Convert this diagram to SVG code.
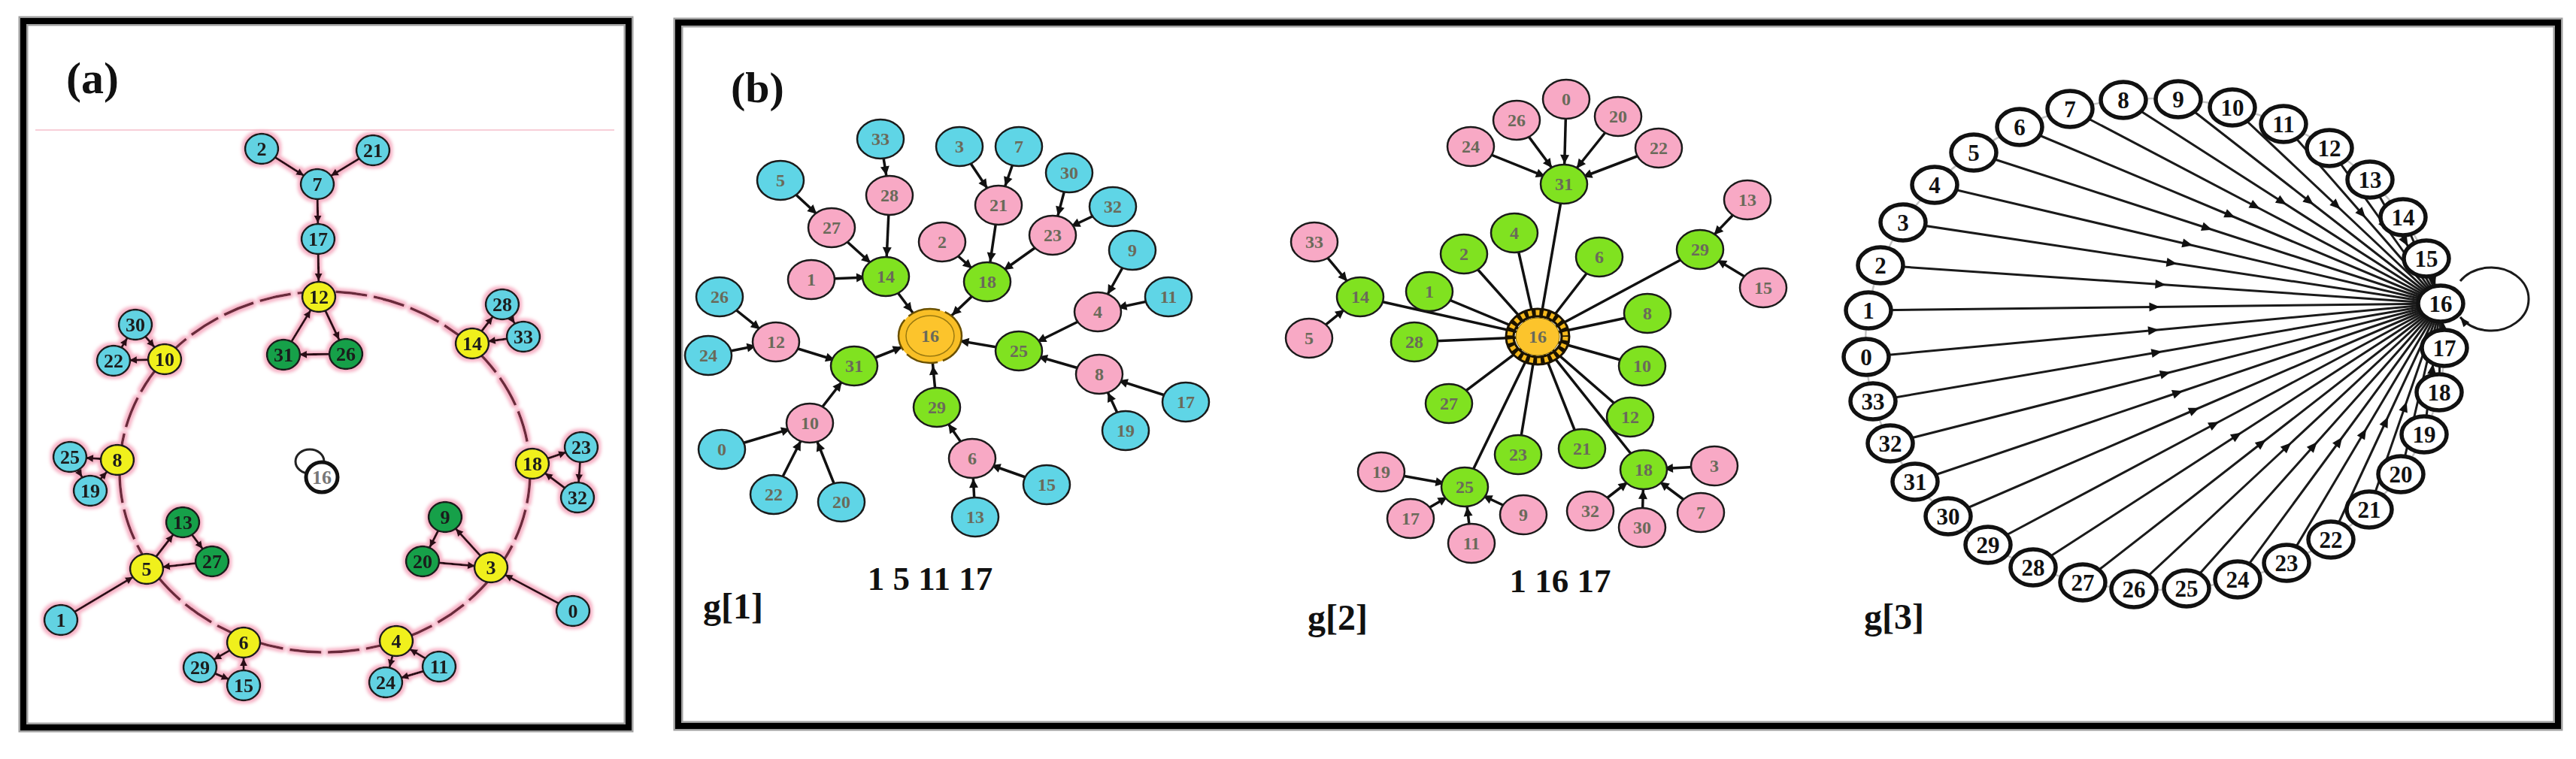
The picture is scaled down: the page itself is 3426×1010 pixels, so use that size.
<svg xmlns="http://www.w3.org/2000/svg" width="3426" height="1010" viewBox="0 0 3426 1010">
<defs>
<style>
.fbg{fill:none;stroke:#a0a0a0;stroke-width:13}
.fr{fill:none;stroke:#000;stroke-width:8}
.lbl{font-family:"Liberation Serif","Times New Roman",serif;font-weight:bold;fill:#111}
.ta{font-family:"Liberation Serif",serif;font-weight:bold;font-size:26px;fill:#1a1a1a;text-anchor:middle}
.tb{font-family:"Liberation Serif",serif;font-weight:bold;font-size:24px;fill:#6a6a5a;text-anchor:middle}
.tc{font-family:"Liberation Serif",serif;font-weight:bold;font-size:31px;fill:#111;text-anchor:middle}
.ea{stroke:#2a0d14;stroke-width:3;fill:none;marker-end:url(#arrA)}
.eb{stroke:#111;stroke-width:3.5;fill:none}
.ebm{stroke:#111;stroke-width:3.5;fill:none;marker-end:url(#arrG)}
.ebh{stroke:#111;stroke-width:3.5;fill:none;marker-end:url(#arrH)}
.ec{stroke:#1a1a1a;stroke-width:3;fill:none;marker-mid:url(#arrM)}
.acy{fill:#62d2e2;stroke:#1a1a1a;stroke-width:2.5}
.aye{fill:#f0f01e;stroke:#1a1a1a;stroke-width:2.5}
.agr{fill:#15a048;stroke:#1a1a1a;stroke-width:2.5}
.bcy{fill:#5fd5e6;stroke:#1a1a1a;stroke-width:2.5}
.bpk{fill:#f8a9c5;stroke:#1a1a1a;stroke-width:2.5}
.bgr{fill:#80e220;stroke:#1a1a1a;stroke-width:2.5}
.cw{fill:#fff;stroke:#111;stroke-width:5.5}
</style>
<marker id="arrA" viewBox="-40 -8 42 16" markerWidth="42" markerHeight="16" refX="0" refY="0" orient="auto" markerUnits="userSpaceOnUse"><path d="M-21,0 L-31,-5 L-31,5 Z" fill="#2a0d14"/></marker>
<marker id="arrG" viewBox="-45 -8 47 16" markerWidth="47" markerHeight="16" refX="0" refY="0" orient="auto" markerUnits="userSpaceOnUse"><path d="M-27,0 L-39,-6 L-39,6 Z" fill="#111"/></marker>
<marker id="arrH" viewBox="-58 -8 60 16" markerWidth="60" markerHeight="16" refX="0" refY="0" orient="auto" markerUnits="userSpaceOnUse"><path d="M-40,0 L-52,-6 L-52,6 Z" fill="#111"/></marker>
<marker id="arrM" viewBox="-12 -8 22 16" markerWidth="22" markerHeight="16" refX="0" refY="0" orient="auto" markerUnits="userSpaceOnUse"><path d="M7,0 L-7,-6 L-7,6 Z" fill="#111"/></marker>
<marker id="arrT" viewBox="-16 -8 18 16" markerWidth="18" markerHeight="16" refX="0" refY="0" orient="auto" markerUnits="userSpaceOnUse"><path d="M0,0 L-13,-5 L-13,5 Z" fill="#111"/></marker>
<filter id="glow" filterUnits="userSpaceOnUse" x="40" y="170" width="790" height="790">
<feMorphology in="SourceAlpha" operator="dilate" radius="3" result="d"/>
<feGaussianBlur in="d" stdDeviation="2" result="b"/>
<feFlood flood-color="#f6b0c4"/>
<feComposite in2="b" operator="in" result="halo"/>
<feMerge><feMergeNode in="halo"/><feMergeNode in="SourceGraphic"/></feMerge>
</filter>
</defs>
<rect width="3426" height="1010" fill="#fff"/>

<g id="frames">
<rect class="fbg" x="31" y="28" width="805" height="940"/>
<rect class="fr" x="31" y="28" width="805" height="940"/>
<rect class="fbg" x="902" y="30" width="2500" height="936"/>
<rect class="fr" x="902" y="30" width="2500" height="936"/>
</g>

<g id="labels">
<text class="lbl" x="88" y="124" font-size="60">(a)</text>
<text class="lbl" x="972" y="136" font-size="58">(b)</text>
<text class="lbl" x="1237" y="785" font-size="45" text-anchor="middle">1 5 11 17</text>
<text class="lbl" x="2075" y="788" font-size="45" text-anchor="middle">1 16 17</text>
<text class="lbl" x="935" y="823" font-size="48">g[1]</text>
<text class="lbl" x="1739" y="838" font-size="48">g[2]</text>
<text class="lbl" x="2479" y="837" font-size="48">g[3]</text>
</g>

<line x1="47" y1="173" x2="817" y2="173" stroke="#f8cfd8" stroke-width="2"/>

<!-- ============ Panel (a) ============ -->
<g id="panel-a" filter="url(#glow)">
<ellipse cx="432" cy="628" rx="273" ry="240" fill="none" stroke="#6b2b3b" stroke-width="3.5" stroke-dasharray="42 9"/>
<g id="connectors-a">
<path class="ea" d="M348,198 L422,245"/>
<path class="ea" d="M496,200 L422,245"/>
<path class="ea" d="M422,245 L423,318"/>
<path class="ea" d="M423,318 L424,395"/>
<path class="ea" d="M377,472 L424,395"/>
<path class="ea" d="M424,395 L460,471"/>
<path class="ea" d="M460,471 L377,472"/>
<path class="ea" d="M180,432 L219,478"/>
<path class="ea" d="M219,478 L151,480"/>
<path class="ea" d="M151,480 L180,432"/>
<path class="ea" d="M628,457 L668,405"/>
<path class="ea" d="M696,448 L628,457"/>
<path class="ea" d="M668,405 L696,448"/>
<path class="ea" d="M156,612 L93,608"/>
<path class="ea" d="M120,653 L156,612"/>
<path class="ea" d="M93,608 L120,653"/>
<path class="ea" d="M708,617 L773,595"/>
<path class="ea" d="M768,662 L708,617"/>
<path class="ea" d="M773,595 L768,662"/>
<path class="ea" d="M195,757 L243,695"/>
<path class="ea" d="M282,747 L195,757"/>
<path class="ea" d="M243,695 L282,747"/>
<path class="ea" d="M653,755 L592,688"/>
<path class="ea" d="M562,747 L653,755"/>
<path class="ea" d="M592,688 L562,747"/>
<path class="ea" d="M81,825 L195,757"/>
<path class="ea" d="M762,813 L653,755"/>
<path class="ea" d="M324,912 L324,855"/>
<path class="ea" d="M324,855 L266,888"/>
<path class="ea" d="M266,888 L324,912"/>
<path class="ea" d="M584,887 L527,853"/>
<path class="ea" d="M527,853 L513,908"/>
<path class="ea" d="M584,887 L513,908"/>
</g>
<g id="a2"><ellipse class="acy" cx="348" cy="198" rx="22" ry="20"/><text class="ta" x="348" y="207">2</text></g>
<g id="a21"><ellipse class="acy" cx="496" cy="200" rx="22" ry="20"/><text class="ta" x="496" y="209">21</text></g>
<g id="a7"><ellipse class="acy" cx="422" cy="245" rx="22" ry="20"/><text class="ta" x="422" y="254">7</text></g>
<g id="a17"><ellipse class="acy" cx="423" cy="318" rx="22" ry="20"/><text class="ta" x="423" y="327">17</text></g>
<g id="a12"><ellipse class="aye" cx="424" cy="395" rx="22" ry="20"/><text class="ta" x="424" y="404">12</text></g>
<g id="a31"><ellipse class="agr" cx="377" cy="472" rx="22" ry="20"/><text class="ta" x="377" y="481">31</text></g>
<g id="a26"><ellipse class="agr" cx="460" cy="471" rx="22" ry="20"/><text class="ta" x="460" y="480">26</text></g>
<g id="a30"><ellipse class="acy" cx="180" cy="432" rx="22" ry="20"/><text class="ta" x="180" y="441">30</text></g>
<g id="a22"><ellipse class="acy" cx="151" cy="480" rx="22" ry="20"/><text class="ta" x="151" y="489">22</text></g>
<g id="a10"><ellipse class="aye" cx="219" cy="478" rx="22" ry="20"/><text class="ta" x="219" y="487">10</text></g>
<g id="a28"><ellipse class="acy" cx="668" cy="405" rx="22" ry="20"/><text class="ta" x="668" y="414">28</text></g>
<g id="a33"><ellipse class="acy" cx="696" cy="448" rx="22" ry="20"/><text class="ta" x="696" y="457">33</text></g>
<g id="a14"><ellipse class="aye" cx="628" cy="457" rx="22" ry="20"/><text class="ta" x="628" y="466">14</text></g>
<g id="a25"><ellipse class="acy" cx="93" cy="608" rx="22" ry="20"/><text class="ta" x="93" y="617">25</text></g>
<g id="a8"><ellipse class="aye" cx="156" cy="612" rx="22" ry="20"/><text class="ta" x="156" y="621">8</text></g>
<g id="a19"><ellipse class="acy" cx="120" cy="653" rx="22" ry="20"/><text class="ta" x="120" y="662">19</text></g>
<g id="a23"><ellipse class="acy" cx="773" cy="595" rx="22" ry="20"/><text class="ta" x="773" y="604">23</text></g>
<g id="a18"><ellipse class="aye" cx="708" cy="617" rx="22" ry="20"/><text class="ta" x="708" y="626">18</text></g>
<g id="a32"><ellipse class="acy" cx="768" cy="662" rx="22" ry="20"/><text class="ta" x="768" y="671">32</text></g>
<g id="a13"><ellipse class="agr" cx="243" cy="695" rx="22" ry="20"/><text class="ta" x="243" y="704">13</text></g>
<g id="a27"><ellipse class="agr" cx="282" cy="747" rx="22" ry="20"/><text class="ta" x="282" y="756">27</text></g>
<g id="a5"><ellipse class="aye" cx="195" cy="757" rx="22" ry="20"/><text class="ta" x="195" y="766">5</text></g>
<g id="a9"><ellipse class="agr" cx="592" cy="688" rx="22" ry="20"/><text class="ta" x="592" y="697">9</text></g>
<g id="a20"><ellipse class="agr" cx="562" cy="747" rx="22" ry="20"/><text class="ta" x="562" y="756">20</text></g>
<g id="a3"><ellipse class="aye" cx="653" cy="755" rx="22" ry="20"/><text class="ta" x="653" y="764">3</text></g>
<g id="a1"><ellipse class="acy" cx="81" cy="825" rx="22" ry="20"/><text class="ta" x="81" y="834">1</text></g>
<g id="a0"><ellipse class="acy" cx="762" cy="813" rx="22" ry="20"/><text class="ta" x="762" y="822">0</text></g>
<g id="a6"><ellipse class="aye" cx="324" cy="855" rx="22" ry="20"/><text class="ta" x="324" y="864">6</text></g>
<g id="a4"><ellipse class="aye" cx="527" cy="853" rx="22" ry="20"/><text class="ta" x="527" y="862">4</text></g>
<g id="a29"><ellipse class="acy" cx="266" cy="888" rx="22" ry="20"/><text class="ta" x="266" y="897">29</text></g>
<g id="a15"><ellipse class="acy" cx="324" cy="912" rx="22" ry="20"/><text class="ta" x="324" y="921">15</text></g>
<g id="a11"><ellipse class="acy" cx="584" cy="887" rx="22" ry="20"/><text class="ta" x="584" y="896">11</text></g>
<g id="a24"><ellipse class="acy" cx="513" cy="908" rx="22" ry="20"/><text class="ta" x="513" y="917">24</text></g>
</g>
<g id="a16">
<ellipse cx="412" cy="614" rx="19" ry="16" fill="#fff" stroke="#222" stroke-width="3"/>
<ellipse cx="428" cy="635" rx="21" ry="20" fill="#fff" stroke="#111" stroke-width="5"/>
<text class="ta" x="428" y="644" style="fill:#777">16</text>
</g>

<!-- ============ g[1] ============ -->
<g id="connectors-g1">
<path class="ebm" d="M1038,240 L1106,303"/>
<path class="ebm" d="M1106,303 L1178,368"/>
<path class="ebm" d="M1171,185 L1183,260"/>
<path class="ebm" d="M1183,260 L1178,368"/>
<path class="ebm" d="M1079,372 L1178,368"/>
<path class="ebh" d="M1178,368 L1237,447"/>
<path class="ebm" d="M1276,195 L1328,273"/>
<path class="ebm" d="M1355,195 L1328,273"/>
<path class="ebm" d="M1328,273 L1313,375"/>
<path class="ebm" d="M1253,322 L1313,375"/>
<path class="ebm" d="M1422,230 L1400,313"/>
<path class="ebm" d="M1480,275 L1400,313"/>
<path class="ebm" d="M1400,313 L1313,375"/>
<path class="ebh" d="M1313,375 L1237,447"/>
<path class="ebm" d="M1506,333 L1460,415"/>
<path class="ebm" d="M1554,395 L1460,415"/>
<path class="ebm" d="M1460,415 L1355,467"/>
<path class="ebh" d="M1355,467 L1237,447"/>
<path class="ebm" d="M1462,498 L1355,467"/>
<path class="ebm" d="M1577,535 L1462,498"/>
<path class="ebm" d="M1497,573 L1462,498"/>
<path class="ebm" d="M957,395 L1032,455"/>
<path class="ebm" d="M942,473 L1032,455"/>
<path class="ebm" d="M1032,455 L1136,487"/>
<path class="ebh" d="M1136,487 L1237,447"/>
<path class="ebh" d="M1246,542 L1237,447"/>
<path class="ebm" d="M1293,610 L1246,542"/>
<path class="ebm" d="M1392,645 L1293,610"/>
<path class="ebm" d="M1297,688 L1293,610"/>
<path class="ebm" d="M1077,563 L1136,487"/>
<path class="ebm" d="M960,598 L1077,563"/>
<path class="ebm" d="M1029,658 L1077,563"/>
<path class="ebm" d="M1119,668 L1077,563"/>
</g>
<g id="g1-nodes">
<g id="g1-33"><ellipse class="bcy" cx="1171" cy="185" rx="31" ry="26"/><text class="tb" x="1171" y="193">33</text></g>
<g id="g1-3"><ellipse class="bcy" cx="1276" cy="195" rx="31" ry="26"/><text class="tb" x="1276" y="203">3</text></g>
<g id="g1-7"><ellipse class="bcy" cx="1355" cy="195" rx="31" ry="26"/><text class="tb" x="1355" y="203">7</text></g>
<g id="g1-5"><ellipse class="bcy" cx="1038" cy="240" rx="31" ry="26"/><text class="tb" x="1038" y="248">5</text></g>
<g id="g1-28"><ellipse class="bpk" cx="1183" cy="260" rx="31" ry="26"/><text class="tb" x="1183" y="268">28</text></g>
<g id="g1-30"><ellipse class="bcy" cx="1422" cy="230" rx="31" ry="26"/><text class="tb" x="1422" y="238">30</text></g>
<g id="g1-21"><ellipse class="bpk" cx="1328" cy="273" rx="31" ry="26"/><text class="tb" x="1328" y="281">21</text></g>
<g id="g1-32"><ellipse class="bcy" cx="1480" cy="275" rx="31" ry="26"/><text class="tb" x="1480" y="283">32</text></g>
<g id="g1-27"><ellipse class="bpk" cx="1106" cy="303" rx="31" ry="26"/><text class="tb" x="1106" y="311">27</text></g>
<g id="g1-2"><ellipse class="bpk" cx="1253" cy="322" rx="31" ry="26"/><text class="tb" x="1253" y="330">2</text></g>
<g id="g1-23"><ellipse class="bpk" cx="1400" cy="313" rx="31" ry="26"/><text class="tb" x="1400" y="321">23</text></g>
<g id="g1-9"><ellipse class="bcy" cx="1506" cy="333" rx="31" ry="26"/><text class="tb" x="1506" y="341">9</text></g>
<g id="g1-1"><ellipse class="bpk" cx="1079" cy="372" rx="31" ry="26"/><text class="tb" x="1079" y="380">1</text></g>
<g id="g1-14"><ellipse class="bgr" cx="1178" cy="368" rx="31" ry="26"/><text class="tb" x="1178" y="376">14</text></g>
<g id="g1-18"><ellipse class="bgr" cx="1313" cy="375" rx="31" ry="26"/><text class="tb" x="1313" y="383">18</text></g>
<g id="g1-11"><ellipse class="bcy" cx="1554" cy="395" rx="31" ry="26"/><text class="tb" x="1554" y="403">11</text></g>
<g id="g1-26"><ellipse class="bcy" cx="957" cy="395" rx="31" ry="26"/><text class="tb" x="957" y="403">26</text></g>
<g id="g1-4"><ellipse class="bpk" cx="1460" cy="415" rx="31" ry="26"/><text class="tb" x="1460" y="423">4</text></g>
<g id="g1-12"><ellipse class="bpk" cx="1032" cy="455" rx="31" ry="26"/><text class="tb" x="1032" y="463">12</text></g>
<g id="g1-25"><ellipse class="bgr" cx="1355" cy="467" rx="31" ry="26"/><text class="tb" x="1355" y="475">25</text></g>
<g id="g1-24"><ellipse class="bcy" cx="942" cy="473" rx="31" ry="26"/><text class="tb" x="942" y="481">24</text></g>
<g id="g1-31"><ellipse class="bgr" cx="1136" cy="487" rx="31" ry="26"/><text class="tb" x="1136" y="495">31</text></g>
<g id="g1-8"><ellipse class="bpk" cx="1462" cy="498" rx="31" ry="26"/><text class="tb" x="1462" y="506">8</text></g>
<g id="g1-29"><ellipse class="bgr" cx="1246" cy="542" rx="31" ry="26"/><text class="tb" x="1246" y="550">29</text></g>
<g id="g1-17"><ellipse class="bcy" cx="1577" cy="535" rx="31" ry="26"/><text class="tb" x="1577" y="543">17</text></g>
<g id="g1-10"><ellipse class="bpk" cx="1077" cy="563" rx="31" ry="26"/><text class="tb" x="1077" y="571">10</text></g>
<g id="g1-19"><ellipse class="bcy" cx="1497" cy="573" rx="31" ry="26"/><text class="tb" x="1497" y="581">19</text></g>
<g id="g1-0"><ellipse class="bcy" cx="960" cy="598" rx="31" ry="26"/><text class="tb" x="960" y="606">0</text></g>
<g id="g1-6"><ellipse class="bpk" cx="1293" cy="610" rx="31" ry="26"/><text class="tb" x="1293" y="618">6</text></g>
<g id="g1-15"><ellipse class="bcy" cx="1392" cy="645" rx="31" ry="26"/><text class="tb" x="1392" y="653">15</text></g>
<g id="g1-22"><ellipse class="bcy" cx="1029" cy="658" rx="31" ry="26"/><text class="tb" x="1029" y="666">22</text></g>
<g id="g1-20"><ellipse class="bcy" cx="1119" cy="668" rx="31" ry="26"/><text class="tb" x="1119" y="676">20</text></g>
<g id="g1-13"><ellipse class="bcy" cx="1297" cy="688" rx="31" ry="26"/><text class="tb" x="1297" y="696">13</text></g>
<g id="g1-16">
<ellipse cx="1237" cy="447" rx="42" ry="36" fill="#f9bf26" stroke="#6a5000" stroke-width="2.5" stroke-dasharray="44 7"/>
<ellipse cx="1237" cy="447" rx="32" ry="27" fill="#fcc42c" stroke="#9a7a10" stroke-width="1.5"/>
<text class="tb" x="1237" y="455">16</text>
</g>
</g>

<!-- ============ g[2] ============ -->
<g id="connectors-g2">
<path class="ebm" d="M1956,195 L2080,245"/>
<path class="ebm" d="M2017,160 L2080,245"/>
<path class="ebm" d="M2083,132 L2080,245"/>
<path class="ebm" d="M2152,155 L2080,245"/>
<path class="ebm" d="M2206,197 L2080,245"/>
<path class="eb" d="M2080,245 L2045,448"/>
<path class="ebm" d="M2324,266 L2261,332"/>
<path class="ebm" d="M2345,383 L2261,332"/>
<path class="eb" d="M2261,332 L2045,448"/>
<path class="ebm" d="M1748,322 L1809,395"/>
<path class="ebm" d="M1741,450 L1809,395"/>
<path class="eb" d="M1809,395 L2045,448"/>
<path class="eb" d="M1901,388 L2045,448"/>
<path class="eb" d="M1947,338 L2045,448"/>
<path class="eb" d="M2014,310 L2045,448"/>
<path class="eb" d="M2127,342 L2045,448"/>
<path class="eb" d="M2191,417 L2045,448"/>
<path class="eb" d="M1881,455 L2045,448"/>
<path class="eb" d="M2184,487 L2045,448"/>
<path class="eb" d="M1927,537 L2045,448"/>
<path class="eb" d="M2019,605 L2045,448"/>
<path class="eb" d="M2104,597 L2045,448"/>
<path class="eb" d="M2168,555 L2045,448"/>
<path class="eb" d="M1948,648 L2045,448"/>
<path class="eb" d="M2186,625 L2045,448"/>
<path class="ebm" d="M1837,628 L1948,648"/>
<path class="ebm" d="M1876,690 L1948,648"/>
<path class="ebm" d="M1957,723 L1948,648"/>
<path class="ebm" d="M2026,685 L1948,648"/>
<path class="ebm" d="M2280,620 L2186,625"/>
<path class="ebm" d="M2115,680 L2186,625"/>
<path class="ebm" d="M2184,702 L2186,625"/>
<path class="ebm" d="M2262,682 L2186,625"/>
</g>
<g id="g2-nodes">
<g id="g2-0"><ellipse class="bpk" cx="2083" cy="132" rx="31" ry="26"/><text class="tb" x="2083" y="140">0</text></g>
<g id="g2-26"><ellipse class="bpk" cx="2017" cy="160" rx="31" ry="26"/><text class="tb" x="2017" y="168">26</text></g>
<g id="g2-20"><ellipse class="bpk" cx="2152" cy="155" rx="31" ry="26"/><text class="tb" x="2152" y="163">20</text></g>
<g id="g2-24"><ellipse class="bpk" cx="1956" cy="195" rx="31" ry="26"/><text class="tb" x="1956" y="203">24</text></g>
<g id="g2-22"><ellipse class="bpk" cx="2206" cy="197" rx="31" ry="26"/><text class="tb" x="2206" y="205">22</text></g>
<g id="g2-31"><ellipse class="bgr" cx="2080" cy="245" rx="31" ry="26"/><text class="tb" x="2080" y="253">31</text></g>
<g id="g2-13"><ellipse class="bpk" cx="2324" cy="266" rx="31" ry="26"/><text class="tb" x="2324" y="274">13</text></g>
<g id="g2-4"><ellipse class="bgr" cx="2014" cy="310" rx="31" ry="26"/><text class="tb" x="2014" y="318">4</text></g>
<g id="g2-33"><ellipse class="bpk" cx="1748" cy="322" rx="31" ry="26"/><text class="tb" x="1748" y="330">33</text></g>
<g id="g2-2"><ellipse class="bgr" cx="1947" cy="338" rx="31" ry="26"/><text class="tb" x="1947" y="346">2</text></g>
<g id="g2-6"><ellipse class="bgr" cx="2127" cy="342" rx="31" ry="26"/><text class="tb" x="2127" y="350">6</text></g>
<g id="g2-29"><ellipse class="bgr" cx="2261" cy="332" rx="31" ry="26"/><text class="tb" x="2261" y="340">29</text></g>
<g id="g2-1"><ellipse class="bgr" cx="1901" cy="388" rx="31" ry="26"/><text class="tb" x="1901" y="396">1</text></g>
<g id="g2-14"><ellipse class="bgr" cx="1809" cy="395" rx="31" ry="26"/><text class="tb" x="1809" y="403">14</text></g>
<g id="g2-15"><ellipse class="bpk" cx="2345" cy="383" rx="31" ry="26"/><text class="tb" x="2345" y="391">15</text></g>
<g id="g2-8"><ellipse class="bgr" cx="2191" cy="417" rx="31" ry="26"/><text class="tb" x="2191" y="425">8</text></g>
<g id="g2-28"><ellipse class="bgr" cx="1881" cy="455" rx="31" ry="26"/><text class="tb" x="1881" y="463">28</text></g>
<g id="g2-5"><ellipse class="bpk" cx="1741" cy="450" rx="31" ry="26"/><text class="tb" x="1741" y="458">5</text></g>
<g id="g2-10"><ellipse class="bgr" cx="2184" cy="487" rx="31" ry="26"/><text class="tb" x="2184" y="495">10</text></g>
<g id="g2-27"><ellipse class="bgr" cx="1927" cy="537" rx="31" ry="26"/><text class="tb" x="1927" y="545">27</text></g>
<g id="g2-12"><ellipse class="bgr" cx="2168" cy="555" rx="31" ry="26"/><text class="tb" x="2168" y="563">12</text></g>
<g id="g2-23"><ellipse class="bgr" cx="2019" cy="605" rx="31" ry="26"/><text class="tb" x="2019" y="613">23</text></g>
<g id="g2-21"><ellipse class="bgr" cx="2104" cy="597" rx="31" ry="26"/><text class="tb" x="2104" y="605">21</text></g>
<g id="g2-19"><ellipse class="bpk" cx="1837" cy="628" rx="31" ry="26"/><text class="tb" x="1837" y="636">19</text></g>
<g id="g2-25"><ellipse class="bgr" cx="1948" cy="648" rx="31" ry="26"/><text class="tb" x="1948" y="656">25</text></g>
<g id="g2-18"><ellipse class="bgr" cx="2186" cy="625" rx="31" ry="26"/><text class="tb" x="2186" y="633">18</text></g>
<g id="g2-3"><ellipse class="bpk" cx="2280" cy="620" rx="31" ry="26"/><text class="tb" x="2280" y="628">3</text></g>
<g id="g2-17"><ellipse class="bpk" cx="1876" cy="690" rx="31" ry="26"/><text class="tb" x="1876" y="698">17</text></g>
<g id="g2-9"><ellipse class="bpk" cx="2026" cy="685" rx="31" ry="26"/><text class="tb" x="2026" y="693">9</text></g>
<g id="g2-32"><ellipse class="bpk" cx="2115" cy="680" rx="31" ry="26"/><text class="tb" x="2115" y="688">32</text></g>
<g id="g2-7"><ellipse class="bpk" cx="2262" cy="682" rx="31" ry="26"/><text class="tb" x="2262" y="690">7</text></g>
<g id="g2-11"><ellipse class="bpk" cx="1957" cy="723" rx="31" ry="26"/><text class="tb" x="1957" y="731">11</text></g>
<g id="g2-30"><ellipse class="bpk" cx="2184" cy="702" rx="31" ry="26"/><text class="tb" x="2184" y="710">30</text></g>
<g id="g2-16">
<ellipse cx="2045" cy="448" rx="37" ry="32" fill="none" stroke="#1a1200" stroke-width="13"/>
<ellipse cx="2045" cy="448" rx="37" ry="32" fill="none" stroke="#f5b81c" stroke-width="7" stroke-dasharray="5 5"/>
<ellipse cx="2045" cy="448" rx="29" ry="25" fill="#fcc42c" stroke="#8a6a00" stroke-width="1"/>
<text class="tb" x="2045" y="456">16</text>
</g>
</g>

<!-- ============ g[3] ============ -->
<ellipse cx="2866" cy="458" rx="385" ry="327" fill="none" stroke="#c4c4c4" stroke-width="2.5"/>
<g id="connectors-g3">
<path class="ec" d="M2482,475 L2864,439.5 L3246,404"/>
<path class="ec" d="M2485,413 L2865.5,408.5 L3246,404"/>
<path class="ec" d="M2501,353 L2873.5,378.5 L3246,404"/>
<path class="ec" d="M2531,296 L2888.5,350 L3246,404"/>
<path class="ec" d="M2573,246 L2909.5,325 L3246,404"/>
<path class="ec" d="M2625,203 L2935.5,303.5 L3246,404"/>
<path class="ec" d="M2686,169 L2966,286.5 L3246,404"/>
<path class="ec" d="M2753,145 L2999.5,274.5 L3246,404"/>
<path class="ec" d="M2824,133 L3035,268.5 L3246,404"/>
<path class="ec" d="M2897,132 L3071.5,268 L3246,404"/>
<path class="ec" d="M2969,143 L3107.5,273.5 L3246,404"/>
<path class="ec" d="M3037,165 L3141.5,284.5 L3246,404"/>
<path class="ec" d="M3098,197 L3172,300.5 L3246,404"/>
<path class="ec" d="M3152,239 L3199,321.5 L3246,404"/>
<path class="ec" d="M3196,289 L3221,346.5 L3246,404"/>
<path class="ec" d="M3227,344 L3236.5,374 L3246,404"/>
<path class="ec" d="M3251,463 L3248.5,433.5 L3246,404"/>
<path class="ec" d="M3244,522 L3245,463 L3246,404"/>
<path class="ec" d="M3224,578 L3235,491 L3246,404"/>
<path class="ec" d="M3193,631 L3219.5,517.5 L3246,404"/>
<path class="ec" d="M3151,678 L3198.5,541 L3246,404"/>
<path class="ec" d="M3100,718 L3173,561 L3246,404"/>
<path class="ec" d="M3041,749 L3143.5,576.5 L3246,404"/>
<path class="ec" d="M2976,771 L3111,587.5 L3246,404"/>
<path class="ec" d="M2908,783 L3077,593.5 L3246,404"/>
<path class="ec" d="M2838,784 L3042,594 L3246,404"/>
<path class="ec" d="M2770,775 L3008,589.5 L3246,404"/>
<path class="ec" d="M2704,755 L2975,579.5 L3246,404"/>
<path class="ec" d="M2644,725 L2945,564.5 L3246,404"/>
<path class="ec" d="M2591,687 L2918.5,545.5 L3246,404"/>
<path class="ec" d="M2547,641 L2896.5,522.5 L3246,404"/>
<path class="ec" d="M2514,590 L2880,497 L3246,404"/>
<path class="ec" d="M2491,534 L2868.5,469 L3246,404"/>
<path d="M3272,374 A50,42 0 1,1 3272,422" fill="none" stroke="#1a1a1a" stroke-width="3" marker-end="url(#arrT)"/>
</g>
<g id="g3-nodes">
<g id="g3-0"><ellipse class="cw" cx="2482" cy="475" rx="30" ry="24"/><text class="tc" x="2482" y="486">0</text></g>
<g id="g3-1"><ellipse class="cw" cx="2485" cy="413" rx="30" ry="24"/><text class="tc" x="2485" y="424">1</text></g>
<g id="g3-2"><ellipse class="cw" cx="2501" cy="353" rx="30" ry="24"/><text class="tc" x="2501" y="364">2</text></g>
<g id="g3-3"><ellipse class="cw" cx="2531" cy="296" rx="30" ry="24"/><text class="tc" x="2531" y="307">3</text></g>
<g id="g3-4"><ellipse class="cw" cx="2573" cy="246" rx="30" ry="24"/><text class="tc" x="2573" y="257">4</text></g>
<g id="g3-5"><ellipse class="cw" cx="2625" cy="203" rx="30" ry="24"/><text class="tc" x="2625" y="214">5</text></g>
<g id="g3-6"><ellipse class="cw" cx="2686" cy="169" rx="30" ry="24"/><text class="tc" x="2686" y="180">6</text></g>
<g id="g3-7"><ellipse class="cw" cx="2753" cy="145" rx="30" ry="24"/><text class="tc" x="2753" y="156">7</text></g>
<g id="g3-8"><ellipse class="cw" cx="2824" cy="133" rx="30" ry="24"/><text class="tc" x="2824" y="144">8</text></g>
<g id="g3-9"><ellipse class="cw" cx="2897" cy="132" rx="30" ry="24"/><text class="tc" x="2897" y="143">9</text></g>
<g id="g3-10"><ellipse class="cw" cx="2969" cy="143" rx="30" ry="24"/><text class="tc" x="2969" y="154">10</text></g>
<g id="g3-11"><ellipse class="cw" cx="3037" cy="165" rx="30" ry="24"/><text class="tc" x="3037" y="176">11</text></g>
<g id="g3-12"><ellipse class="cw" cx="3098" cy="197" rx="30" ry="24"/><text class="tc" x="3098" y="208">12</text></g>
<g id="g3-13"><ellipse class="cw" cx="3152" cy="239" rx="30" ry="24"/><text class="tc" x="3152" y="250">13</text></g>
<g id="g3-14"><ellipse class="cw" cx="3196" cy="289" rx="30" ry="24"/><text class="tc" x="3196" y="300">14</text></g>
<g id="g3-15"><ellipse class="cw" cx="3227" cy="344" rx="30" ry="24"/><text class="tc" x="3227" y="355">15</text></g>
<g id="g3-16"><ellipse class="cw" cx="3246" cy="404" rx="30" ry="24"/><text class="tc" x="3246" y="415">16</text></g>
<g id="g3-17"><ellipse class="cw" cx="3251" cy="463" rx="30" ry="24"/><text class="tc" x="3251" y="474">17</text></g>
<g id="g3-18"><ellipse class="cw" cx="3244" cy="522" rx="30" ry="24"/><text class="tc" x="3244" y="533">18</text></g>
<g id="g3-19"><ellipse class="cw" cx="3224" cy="578" rx="30" ry="24"/><text class="tc" x="3224" y="589">19</text></g>
<g id="g3-20"><ellipse class="cw" cx="3193" cy="631" rx="30" ry="24"/><text class="tc" x="3193" y="642">20</text></g>
<g id="g3-21"><ellipse class="cw" cx="3151" cy="678" rx="30" ry="24"/><text class="tc" x="3151" y="689">21</text></g>
<g id="g3-22"><ellipse class="cw" cx="3100" cy="718" rx="30" ry="24"/><text class="tc" x="3100" y="729">22</text></g>
<g id="g3-23"><ellipse class="cw" cx="3041" cy="749" rx="30" ry="24"/><text class="tc" x="3041" y="760">23</text></g>
<g id="g3-24"><ellipse class="cw" cx="2976" cy="771" rx="30" ry="24"/><text class="tc" x="2976" y="782">24</text></g>
<g id="g3-25"><ellipse class="cw" cx="2908" cy="783" rx="30" ry="24"/><text class="tc" x="2908" y="794">25</text></g>
<g id="g3-26"><ellipse class="cw" cx="2838" cy="784" rx="30" ry="24"/><text class="tc" x="2838" y="795">26</text></g>
<g id="g3-27"><ellipse class="cw" cx="2770" cy="775" rx="30" ry="24"/><text class="tc" x="2770" y="786">27</text></g>
<g id="g3-28"><ellipse class="cw" cx="2704" cy="755" rx="30" ry="24"/><text class="tc" x="2704" y="766">28</text></g>
<g id="g3-29"><ellipse class="cw" cx="2644" cy="725" rx="30" ry="24"/><text class="tc" x="2644" y="736">29</text></g>
<g id="g3-30"><ellipse class="cw" cx="2591" cy="687" rx="30" ry="24"/><text class="tc" x="2591" y="698">30</text></g>
<g id="g3-31"><ellipse class="cw" cx="2547" cy="641" rx="30" ry="24"/><text class="tc" x="2547" y="652">31</text></g>
<g id="g3-32"><ellipse class="cw" cx="2514" cy="590" rx="30" ry="24"/><text class="tc" x="2514" y="601">32</text></g>
<g id="g3-33"><ellipse class="cw" cx="2491" cy="534" rx="30" ry="24"/><text class="tc" x="2491" y="545">33</text></g>
</g>
</svg>
